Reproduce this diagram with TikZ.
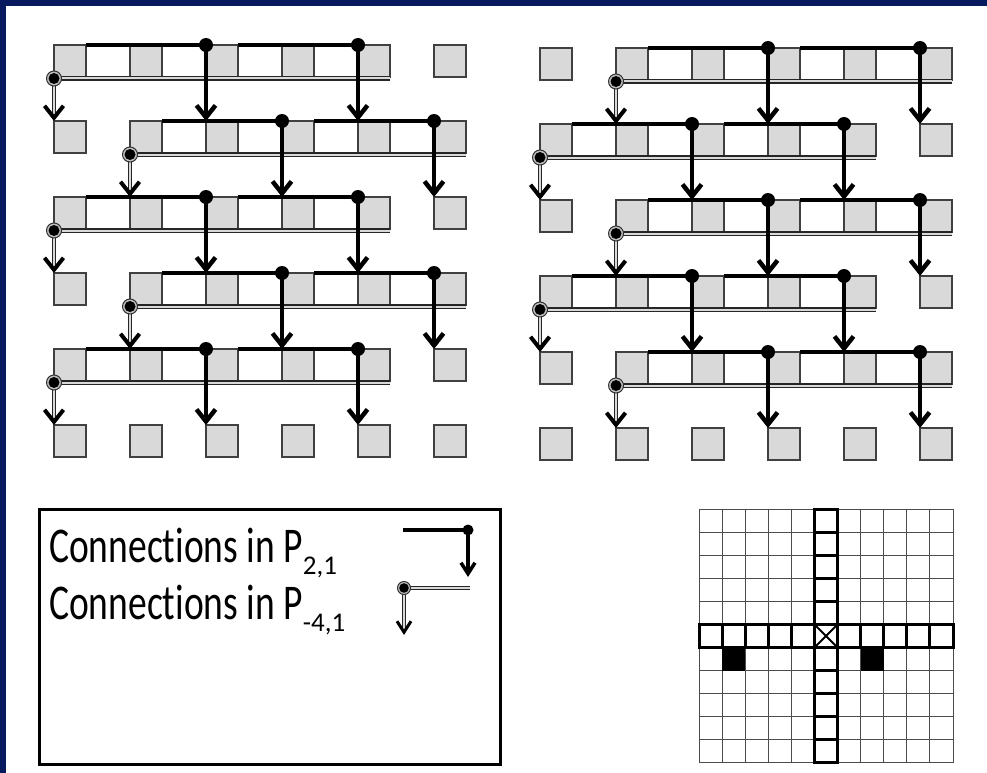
\documentclass[tikz,border=0pt]{standalone}
\usepackage{fontspec}
\newfontfamily\legendfont[FakeStretch=0.75, Ligatures=CommonOff]{Carlito}
\newfontfamily\idxfont{Carlito}
\usetikzlibrary{arrows.meta}

\definecolor{slideblue}{RGB}{8,26,94}
\definecolor{cellgray}{RGB}{217,217,217}

\newcommand\lowidx[1]{\raisebox{-12pt}{\idxfont\fontsize{27}{27}\selectfont #1}}

\tikzset{
  cell/.style={draw=black!75, fill=cellgray, line width=1.3pt, minimum size=32pt, inner sep=0pt, outer sep=0pt},
  strip/.style={draw=black!75, line width=1.3pt},
  pdrop/.style={line width=4.5pt, -{Straight Barb[length=12pt, width=19pt, line width=4.5pt]}},
  nbus/.style={draw=black!85, line width=1.2pt, double=black!15, double distance=2pt},
  ntip/.style={draw=black!15, line width=0.3pt, -{Straight Barb[length=12pt, width=19pt, line width=4pt, color=black]}},
  gridline/.style={draw=black!70, line width=1pt},
  crosscell/.style={draw=black, line width=3pt},
}

\begin{document}
\begin{tikzpicture}[x=1pt, y=-1pt]
  \useasboundingbox (0,0) rectangle (987,773);
  \fill[slideblue] (0,0) rectangle (987,773);
  \fill[white] (6,6) rectangle (987,773);

  % the two meshes of PEs, 6x6 each
  \foreach \m/\ox/\oy in {l/54/45, r/540/48}
    \foreach \r in {0,...,5}
      \foreach \c in {0,...,5}
        \node[cell] (\m-\r-\c) at (\ox+76*\c+16, \oy+76*\r+16) {};

  % row strips (every other row starts one column later)
  \foreach \m/\p in {l/0, r/1}
    \foreach \r in {0,...,4} {
      \pgfmathtruncatemacro\s{mod(\r+\p,2)}
      \pgfmathtruncatemacro\sb{\s+4}
      \draw[strip] (\m-\r-\s.north west) rectangle (\m-\r-\sb.south east);
      \foreach \c in {0,...,4}
        \pgfmathtruncatemacro\cc{\s+\c}
        \node[cell] at (\m-\r-\cc) {};
    }

  % connections of both permutations
  \foreach \m/\p in {l/0, r/1}
    \foreach \r in {0,...,4} {
      \pgfmathtruncatemacro\s{mod(\r+\p,2)}
      \pgfmathtruncatemacro\sa{\s+2}
      \pgfmathtruncatemacro\sb{\s+4}
      \pgfmathtruncatemacro\nr{\r+1}
      % P(-4,1): double line along the bottom
      \draw[nbus, shorten >=4pt] ([yshift=-1.5pt]\m-\r-\sb.south east) -- ([yshift=-1.5pt]\m-\r-\s.south west) -- (\m-\nr-\s.north west);
      \draw[ntip] ([yshift=-1.5pt]\m-\r-\s.south west) -- (\m-\nr-\s.north west);
      \filldraw[draw=black!80, fill=black!25, line width=1pt] ([yshift=-1.5pt]\m-\r-\s.south west) circle (7.5);
      \fill ([yshift=-1.5pt]\m-\r-\s.south west) circle (5.5);
      % P(2,1): thick line along the top
      \draw[pdrop] (\m-\r-\s.north east) -- (\m-\r-\sa.north west) -- (\m-\nr-\sa.north west);
      \draw[pdrop] (\m-\r-\sa.north east) -- (\m-\r-\sb.north west) -- (\m-\nr-\sb.north west);
      \fill (\m-\r-\sa.north west) circle (7);
      \fill (\m-\r-\sb.north west) circle (7);
    }

  % legend
  \node[draw, line width=3pt, minimum width=461pt, minimum height=255pt, anchor=north west] (legend) at (38,508) {};
  \node[anchor=base west, inner sep=0pt] (txt1) at (49,562) {\legendfont\fontsize{50}{54}\selectfont Connections in P\lowidx{2,1}};
  \node[anchor=base west, inner sep=0pt] (txt2) at (49,619) {\legendfont\fontsize{50}{54}\selectfont Connections in P\lowidx{-4,1}};
  \coordinate (k1a) at (403,530);
  \coordinate (k1b) at (468,530);
  \coordinate (k1c) at (468,577);
  \draw[line width=3.5pt, -{Straight Barb[length=11pt, width=14pt, line width=3.5pt]}] (k1a) -- (k1b) -- (k1c);
  \fill (k1b) circle (5.5);
  \coordinate (k2a) at (470,588);
  \coordinate (k2b) at (404,588);
  \coordinate (k2c) at (404,635);
  \draw[nbus, shorten >=4pt] (k2a) -- (k2b) -- (k2c);
  \draw[ntip, -{Straight Barb[length=11pt, width=14pt, line width=3pt, color=black]}] (k2b) -- (k2c);
  \filldraw[draw=black!80, fill=black!25, line width=1pt] (k2b) circle (6.5);
  \fill (k2b) circle (4.8);

  % 11x11 neighbourhood with the cross of row and column
  \def\gs{23.09}
  \foreach \k in {0,...,11} {
    \draw[gridline] (699+\gs*\k,509) -- ++(0,254);
    \draw[gridline] (699,509+\gs*\k) -- ++(254,0);
  }
  \fill (699+\gs,509+6*\gs) rectangle ++(\gs,\gs);
  \fill (699+7*\gs,509+6*\gs) rectangle ++(\gs,\gs);
  \foreach \k in {0,...,10} {
    \draw[crosscell] (699+5*\gs,509+\gs*\k) rectangle ++(\gs,\gs);
    \draw[crosscell] (699+\gs*\k,509+5*\gs) rectangle ++(\gs,\gs);
  }
  \draw[line width=2pt] (699+5*\gs,509+5*\gs) -- ++(\gs,\gs)
                        (699+6*\gs,509+5*\gs) -- ++(-\gs,\gs);
\end{tikzpicture}
\end{document}
